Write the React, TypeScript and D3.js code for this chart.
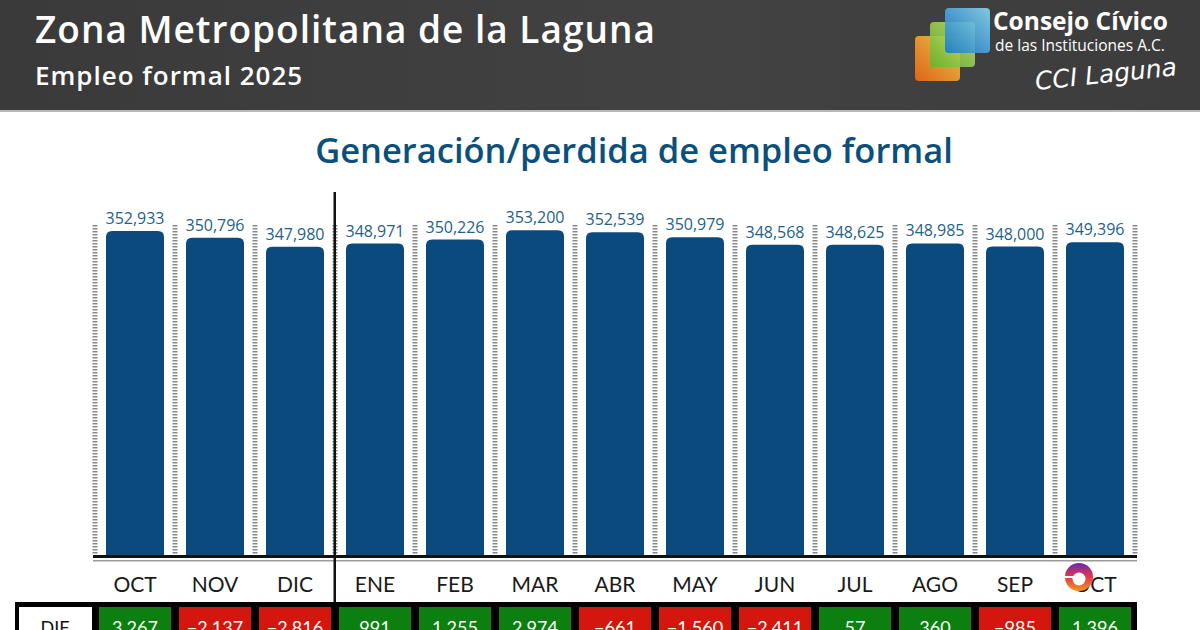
import React, { useRef, useEffect } from "react";
import * as d3 from "d3";

const months = ["OCT", "NOV", "DIC", "ENE", "FEB", "MAR", "ABR", "MAY", "JUN", "JUL", "AGO", "SEP", "OCT"];
const empleo = [352933, 350796, 347980, 348971, 350226, 353200, 352539, 350979, 348568, 348625, 348985, 348000, 349396];
const dif = [3267, -2137, -2816, 991, 1255, 2974, -661, -1560, -2411, 57, 360, -985, 1396];

const W = 1200;
const H = 630;
const BAR = "#0b4a7e";
const LABEL = "#1f5f8b";
const GREEN = "#0d7f10";
const RED = "#d3170e";

export default function App() {
  const svgRef = useRef<SVGSVGElement>(null);

  useEffect(() => {
    if (!svgRef.current) return;
    const svg = d3.select(svgRef.current);
    svg.selectAll("*").remove();

    const defs = svg.append("defs");
    const hdr = defs.append("linearGradient").attr("id", "hdr").attr("x1", 0).attr("x2", 1).attr("y1", 0).attr("y2", 0);
    hdr.append("stop").attr("offset", "0%").attr("stop-color", "#3a3a3a");
    hdr.append("stop").attr("offset", "60%").attr("stop-color", "#424242");
    hdr.append("stop").attr("offset", "100%").attr("stop-color", "#3c3c3c");

    // header band
    svg.append("rect").attr("width", W).attr("height", H).attr("fill", "#fff");
    svg.append("rect").attr("width", W).attr("height", 110).attr("fill", "url(#hdr)");
    svg.append("rect").attr("y", 110).attr("width", W).attr("height", 2).attr("fill", "#b8b8b8");

    svg.append("text").attr("x", 35).attr("y", 43)
      .attr("font-family", "'Open Sans', sans-serif").attr("font-weight", 600).attr("font-size", 37)
      .attr("letter-spacing", 1).attr("fill", "#fff").text("Zona Metropolitana de la Laguna");
    svg.append("text").attr("x", 35).attr("y", 85)
      .attr("font-family", "'Open Sans', sans-serif").attr("font-weight", 600).attr("font-size", 26)
      .attr("letter-spacing", 1).attr("fill", "#fff").text("Empleo formal 2025");

    // logo
    const logo = svg.append("g");
    const sq = [
      { x: 945, y: 8, c1: "#8adaf7", c2: "#1477c9" },
      { x: 930, y: 22, c1: "#d2ec72", c2: "#5fb32b" },
      { x: 915, y: 36, c1: "#ffd84f", c2: "#f26a12" },
    ];
    sq.forEach((s, i) => {
      const g = defs.append("linearGradient").attr("id", `lg${i}`).attr("x1", 1).attr("y1", 0).attr("x2", 0).attr("y2", 1);
      g.append("stop").attr("offset", "0%").attr("stop-color", s.c1);
      g.append("stop").attr("offset", "100%").attr("stop-color", s.c2);
    });
    [2, 1, 0].forEach((i) => {
      const s = sq[i];
      logo.append("rect").attr("x", s.x).attr("y", s.y).attr("width", 45).attr("height", 45)
        .attr("rx", 4).attr("fill", `url(#lg${i})`).attr("opacity", 0.88);
    });
    logo.append("text").attr("x", 993).attr("y", 30)
      .attr("font-family", "'Open Sans', sans-serif").attr("font-weight", 700).attr("font-size", 24.5)
      .attr("fill", "#fff").text("Consejo Cívico");
    logo.append("text").attr("x", 995).attr("y", 51)
      .attr("font-family", "'Open Sans', sans-serif").attr("font-size", 15.5)
      .attr("fill", "#fff").text("de las Instituciones A.C.");
    logo.append("text").attr("x", 1036).attr("y", 90)
      .attr("transform", "rotate(-6 1036 90)")
      .attr("font-family", "'DejaVu Sans', sans-serif").attr("font-style", "italic").attr("font-weight", 300)
      .attr("font-size", 25).attr("fill", "#fff").text("CCI Laguna");

    // chart title
    svg.append("text").attr("x", 634).attr("y", 163).attr("text-anchor", "middle")
      .attr("font-family", "'Open Sans', sans-serif").attr("font-weight", 600).attr("font-size", 34.5)
      .attr("fill", "#0b4f7d").text("Generación/perdida de empleo formal");

    const idx = months.map((_, i) => String(i));
    const x = d3.scaleBand<string>().domain(idx).range([95, 1135]).paddingInner(0.275).paddingOuter(0.1375);
    const y = d3.scaleLinear().domain([250000, 355000]).range([556, 224.5]);
    const step = x.step();
    const slot = (i: number) => (x(String(i)) as number) - (step - x.bandwidth()) / 2;

    // dashed separators
    d3.range(months.length + 1).forEach((i) => {
      const sx = i < months.length ? slot(i) : slot(i - 1) + step;
      svg.append("line").attr("x1", sx).attr("x2", sx).attr("y1", 225).attr("y2", 555)
        .attr("stroke", "#8a8a8a").attr("stroke-width", 5).attr("stroke-dasharray", "1.6 1.4");
    });

    // bars with rounded tops
    const r = 6;
    svg.append("g").selectAll("path").data(empleo).join("path")
      .attr("fill", BAR)
      .attr("d", (d, i) => {
        const x0 = x(String(i)) as number;
        const x1 = x0 + x.bandwidth();
        const t = y(d);
        const b = y(250000);
        return `M${x0},${b}V${t + r}Q${x0},${t} ${x0 + r},${t}H${x1 - r}Q${x1},${t} ${x1},${t + r}V${b}Z`;
      });

    svg.append("g").selectAll("text").data(empleo).join("text")
      .attr("x", (_, i) => (x(String(i)) as number) + x.bandwidth() / 2)
      .attr("y", (d) => y(d) - 7)
      .attr("text-anchor", "middle")
      .attr("font-family", "'Open Sans', sans-serif").attr("font-size", 16)
      .attr("fill", LABEL)
      .text((d) => d3.format(",")(d));

    // baseline and divider
    svg.append("rect").attr("x", 93).attr("y", 555).attr("width", 1044).attr("height", 3).attr("fill", "#111");
    svg.append("rect").attr("x", 93).attr("y", 560).attr("width", 1044).attr("height", 1.5).attr("fill", "#9a9a9a");
    svg.append("rect").attr("x", slot(3) - 1.5).attr("y", 192).attr("width", 2.5).attr("height", 413).attr("fill", "#111");

    // month labels
    svg.append("g").selectAll("text").data(months).join("text")
      .attr("x", (_, i) => (x(String(i)) as number) + x.bandwidth() / 2)
      .attr("y", 592)
      .attr("text-anchor", "middle")
      .attr("font-family", "Lato, sans-serif").attr("font-size", 21)
      .attr("fill", "#1a1a1a")
      .text((d) => d);

    // DIF row (cut off by the bottom edge, as in the source)
    svg.append("rect").attr("x", 15).attr("y", 602).attr("width", 1122).attr("height", 30).attr("fill", "#000");
    svg.append("rect").attr("x", 19).attr("y", 607).attr("width", 73).attr("height", 25).attr("fill", "#fff");
    svg.append("text").attr("x", 55).attr("y", 634).attr("text-anchor", "middle")
      .attr("font-family", "Lato, sans-serif").attr("font-size", 18).attr("fill", "#111").text("DIF");
    svg.append("g").selectAll("rect").data(dif).join("rect")
      .attr("x", (_, i) => slot(i) + 4)
      .attr("y", 607)
      .attr("width", step - 8)
      .attr("height", 25)
      .attr("fill", (d) => (d >= 0 ? GREEN : RED));
    svg.append("g").selectAll("text").data(dif).join("text")
      .attr("x", (_, i) => (x(String(i)) as number) + x.bandwidth() / 2)
      .attr("y", 634)
      .attr("text-anchor", "middle")
      .attr("font-family", "Lato, sans-serif").attr("font-size", 18)
      .attr("fill", "#fff")
      .text((d) => d3.format(",")(d));

    // broadcaster watermark over the last month label
    const wm = defs.append("linearGradient").attr("id", "wm").attr("x1", 0).attr("x2", 0).attr("y1", 0).attr("y2", 1);
    wm.append("stop").attr("offset", "0%").attr("stop-color", "#6a2bb0");
    wm.append("stop").attr("offset", "50%").attr("stop-color", "#e8364a");
    wm.append("stop").attr("offset", "100%").attr("stop-color", "#f7931e");
    const cx = 1079, cy = 577;
    svg.append("circle").attr("cx", cx).attr("cy", cy).attr("r", 14).attr("fill", "url(#wm)");
    svg.append("circle").attr("cx", cx).attr("cy", cy + 2).attr("r", 6.5).attr("fill", "#fff");
    svg.append("rect").attr("x", cx - 14).attr("y", cy - 1).attr("width", 20).attr("height", 2).attr("fill", "#fff");
  }, []);

  return (
    <svg
      ref={svgRef}
      width={W}
      height={H}
      style={{ position: "fixed", top: 0, left: 0, display: "block" }}
    />
  );
}
